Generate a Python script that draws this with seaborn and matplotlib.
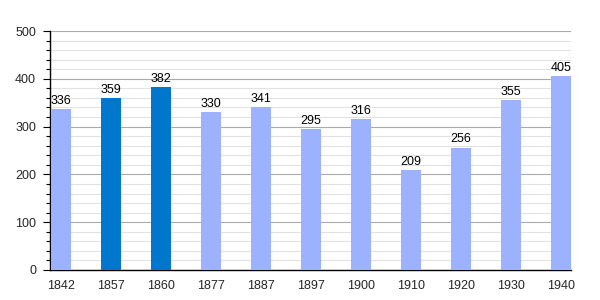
import matplotlib
matplotlib.use("Agg")
import matplotlib.pyplot as plt
import seaborn as sns
import pandas as pd
from matplotlib.ticker import MultipleLocator

years = ["1842", "1857", "1860", "1877", "1887", "1897", "1900", "1910", "1920", "1930", "1940"]
population = [336, 359, 382, 330, 341, 295, 316, 209, 256, 355, 405]
highlight = ["no", "yes", "yes", "no", "no", "no", "no", "no", "no", "no", "no"]

df = pd.DataFrame({"year": years, "pop": population, "hl": highlight})

sns.set_theme(style="white")
plt.rcParams['font.family'] = ['Liberation Sans', 'DejaVu Sans']

fig = plt.figure(figsize=(6, 3), dpi=100)
ax = fig.add_axes([50/600, 0.1, 521/600, 239/300])

ax.yaxis.set_major_locator(MultipleLocator(100))
ax.yaxis.set_minor_locator(MultipleLocator(20))
ax.grid(which="major", axis="y", color="#aaaaaa", linewidth=0.8, zorder=0)
ax.grid(which="minor", axis="y", color="#e2e2e2", linewidth=0.8, zorder=0)
ax.set_axisbelow(True)

sns.barplot(data=df, x="year", y="pop", hue="hl", palette={"no": "#9db2fe", "yes": "#0077cc"},
            width=0.4, legend=False, ax=ax, saturation=1, zorder=3, linewidth=0, edgecolor="none")

for i, v in enumerate(population):
    ax.text(i, v + 5, str(v), ha="center", va="bottom", fontsize=9, color="#000000")

ax.set_xlim(-0.22, 10.2)
ax.set_ylim(0, 500)
ax.set_xlabel("")
ax.set_ylabel("")
for s in ["top", "right"]:
    ax.spines[s].set_visible(False)
ax.spines["left"].set_color("#000000")
ax.spines["bottom"].set_color("#000000")
ax.spines["left"].set_linewidth(1)
ax.spines["bottom"].set_linewidth(1)
ax.tick_params(axis="y", which="major", left=True, length=5, width=0.8, labelsize=9, pad=5, color="#000000")
ax.tick_params(axis="y", which="minor", left=True, length=3, width=0.8, color="#000000")
ax.tick_params(axis="x", bottom=False, labelsize=9, pad=1)

fig.savefig("out.png", dpi=100)
